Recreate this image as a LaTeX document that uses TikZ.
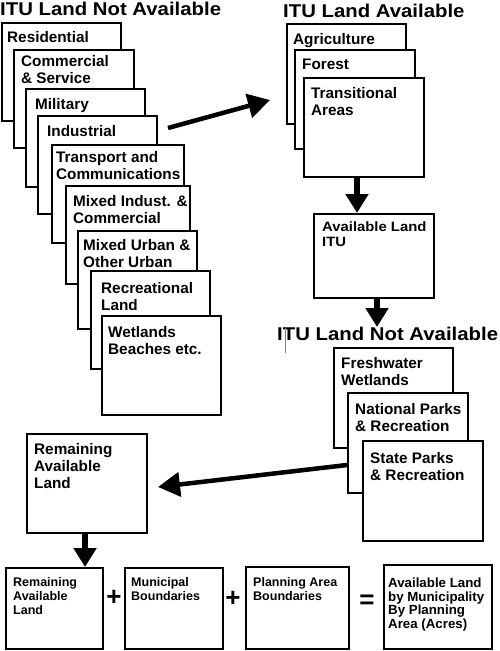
\documentclass[tikz,border=0pt]{standalone}
\usepackage{fontspec}
\setmainfont{Liberation Sans}
\newfontfamily\widefont{Liberation Sans}[FakeStretch=1.1]
\usetikzlibrary{arrows.meta}

\tikzset{
  landbox/.style={draw, fill=white, line width=1.6pt, anchor=north west, inner sep=0pt, minimum width=119pt, minimum height=98pt},
  landtext/.style={anchor=north west, inner sep=0pt, align=left, font=\bfseries\fontsize{15.3}{17}\selectfont},
  smalltext/.style={anchor=north west, inner sep=0pt, align=left, font=\bfseries\fontsize{12.5}{14.3}\selectfont},
  heading/.style={anchor=base west, inner sep=0pt, font=\widefont\bfseries\fontsize{18.5}{20}\selectfont},
  bigarrow/.style={line width=4.5pt, -{Triangle[length=22pt,width=24pt]}},
  downarrow/.style={line width=6pt, -{Triangle[length=19pt,width=22pt]}},
  sign/.style={inner sep=0pt, font=\bfseries\fontsize{26}{26}\selectfont}
}

\begin{document}
\begin{tikzpicture}[x=1pt,y=-1pt]

\useasboundingbox (0,0) rectangle (500,651);

\node[heading] (notavail) at (0,15.5) {ITU Land Not Available};

\node[landbox] (residential) at (1,22) {};
\node[landtext] (residential-t) at ([shift={(6pt,-9pt)}]residential.north west) {Residential};
\node[landbox, minimum width=120pt] (commercial) at (13,49) {};
\node[landtext] (commercial-t) at ([shift={(8pt,-6pt)}]commercial.north west) {Commercial\\\& Service};
\node[landbox] (military) at (25,88) {};
\node[landtext] (military-t) at ([shift={(10pt,-10pt)}]military.north west) {Military};
\node[landbox] (industrial) at (37,115) {};
\node[landtext] (industrial-t) at ([shift={(10pt,-10pt)}]industrial.north west) {Industrial};
\node[landbox, minimum width=132pt] (transport) at (51,144) {};
\node[landtext] (transport-t) at ([shift={(5pt,-7pt)}]transport.north west) {Transport and\\Communications};
\node[landbox, minimum width=124pt] (mixedind) at (65,185) {};
\node[landtext] (mixedind-t) at ([shift={(8pt,-10pt)}]mixedind.north west) {Mixed Indust. \&\\Commercial};
\node[landbox] (mixedurban) at (77,230) {};
\node[landtext] (mixedurban-t) at ([shift={(6pt,-9pt)}]mixedurban.north west) {Mixed Urban \&\\Other Urban};
\node[landbox] (recreational) at (90,270) {};
\node[landtext] (recreational-t) at ([shift={(11pt,-12pt)}]recreational.north west) {Recreational\\Land};
\node[landbox, minimum height=99pt] (wetlands) at (101,315) {};
\node[landtext] (wetlands-t) at ([shift={(7pt,-11pt)}]wetlands.north west) {Wetlands\\Beaches etc.};

\coordinate (toavail-s) at (168,128);
\coordinate (toavail-e) at (270,100);
\draw[bigarrow] (toavail-s) -- (toavail-e);

\node[heading] (available) at (283,17.5) {ITU Land Available};

\node[landbox, minimum height=100pt] (agriculture) at (286,23) {};
\node[landtext] (agriculture-t) at ([shift={(7pt,-10pt)}]agriculture.north west) {Agriculture};
\node[landbox, minimum width=120pt, minimum height=99pt] (forest) at (294,49) {};
\node[landtext] (forest-t) at ([shift={(8pt,-10pt)}]forest.north west) {Forest};
\node[landbox, minimum width=120pt, minimum height=99pt] (transitional) at (303,77) {};
\node[landtext] (transitional-t) at ([shift={(8pt,-10pt)}]transitional.north west) {Transitional\\Areas};

\node[landbox, minimum width=120pt, minimum height=84pt] (availitu) at (313,213) {};
\node[smalltext, font=\widefont\bfseries\fontsize{13.5}{15}\selectfont] (availitu-t) at ([shift={(9pt,-9pt)}]availitu.north west) {Available Land\\ITU};

\draw[downarrow] ([xshift=54pt]transitional.south west) -- ([xshift=44pt]availitu.north west);

\node[heading] (notavail2) at (277,340) {ITU Land Not Available};
\draw[gray, line width=0.6pt] (285,328) -- (285,353);

\coordinate (tonot-e) at (377,327);
\draw[downarrow] ([xshift=64pt]availitu.south west) -- (tonot-e);

\node[landbox, minimum height=100pt] (freshwater) at (333,347) {};
\node[landtext] (freshwater-t) at ([shift={(8pt,-10pt)}]freshwater.north west) {Freshwater\\Wetlands};
\node[landbox, minimum width=120pt, minimum height=100pt] (national) at (347,392) {};
\node[landtext] (national-t) at ([shift={(8pt,-11pt)}]national.north west) {National Parks\\\& Recreation};
\node[landbox, minimum width=120pt, minimum height=100pt] (state) at (362,440) {};
\node[landtext] (state-t) at ([shift={(8pt,-12pt)}]state.north west) {State Parks\\\& Recreation};

\node[landbox, minimum width=120pt, minimum height=99pt] (remaining) at (26,433) {};
\node[landtext] (remaining-t) at ([shift={(8pt,-10pt)}]remaining.north west) {Remaining\\Available\\Land};

\coordinate (toremain-e) at (158,487);
\draw[bigarrow] ([yshift=-73pt]national.north west) -- (toremain-e);

\node[landbox, minimum width=97pt, minimum height=81pt] (remainsum) at (5,567) {};
\node[smalltext] (remainsum-t) at ([shift={(8pt,-10pt)}]remainsum.north west) {Remaining\\Available\\Land};
\node[landbox, minimum width=98pt, minimum height=81pt] (municipal) at (124,567) {};
\node[smalltext] (municipal-t) at ([shift={(7pt,-10pt)}]municipal.north west) {Municipal\\Boundaries};
\node[landbox, minimum width=103pt, minimum height=82pt] (planning) at (245,566) {};
\node[smalltext] (planning-t) at ([shift={(8pt,-11pt)}]planning.north west) {Planning Area\\Boundaries};
\node[landbox, minimum width=108pt, minimum height=84pt] (result) at (383,564) {};
\node[smalltext, font=\bfseries\fontsize{13.3}{13.5}\selectfont] (result-t) at ([shift={(5pt,-14pt)}]result.north west) {Available Land\\by Municipality\\By Planning\\Area (Acres)};

\draw[downarrow] ([xshift=59pt]remaining.south west) -- ([xshift=80pt]remainsum.north west);

\node[sign] (plus1) at (114,598) {+};
\node[sign] (plus2) at (233,599) {+};
\node[sign] (equals) at (367,602) {=};

\end{tikzpicture}
\end{document}
